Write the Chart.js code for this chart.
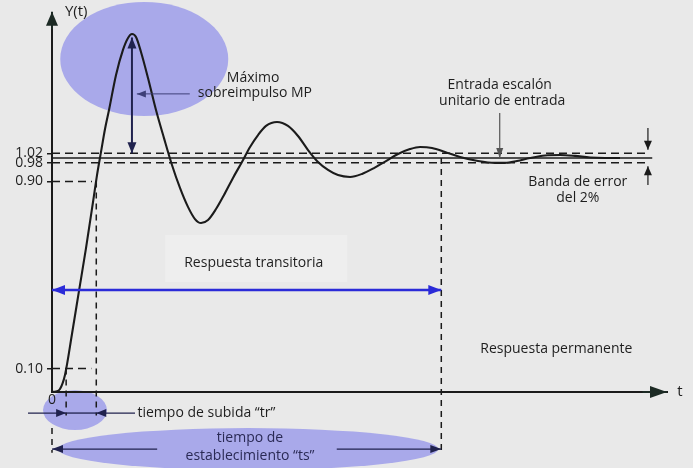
<!DOCTYPE html>
<html><head><meta charset="utf-8">
<script src="https://cdn.jsdelivr.net/npm/chart.js@4.4.1/dist/chart.umd.min.js"></script>
<style>html,body{margin:0;padding:0;background:#e9e9e9;}canvas{display:block}</style>
</head><body>
<canvas id="c" width="693" height="468"></canvas>
<script>
// ---- data ----
const responseT = [0, 0.065, 0.130, 0.211, 0.325, 0.439, 0.553, 0.667, 0.732, 0.797, 0.862, 0.927, 1.041, 1.154, 1.236, 1.301, 1.366, 1.447, 1.561, 1.691, 1.821, 1.951, 2.081, 2.211, 2.325, 2.423, 2.537, 2.667, 2.797, 2.943, 3.089, 3.220, 3.350, 3.480, 3.659, 3.837, 4.000, 4.163, 4.325, 4.488, 4.650, 4.846, 5.041, 5.236, 5.431, 5.626, 5.821, 5.984, 6.179, 6.390, 6.634, 6.927, 7.203, 7.366, 7.561, 7.772, 8.016, 8.260, 8.504, 8.748, 8.992, 9.236];
const responseY = [0, 0.002, 0.013, 0.073, 0.248, 0.432, 0.615, 0.812, 0.927, 1.026, 1.124, 1.205, 1.355, 1.462, 1.513, 1.530, 1.517, 1.453, 1.342, 1.205, 1.085, 0.970, 0.872, 0.791, 0.739, 0.722, 0.735, 0.782, 0.842, 0.915, 0.983, 1.047, 1.098, 1.137, 1.154, 1.137, 1.094, 1.034, 0.983, 0.949, 0.927, 0.919, 0.932, 0.957, 0.987, 1.017, 1.038, 1.047, 1.043, 1.026, 1.004, 0.987, 0.979, 0.979, 0.987, 1.000, 1.011, 1.013, 1.009, 1.002, 1.000, 1.000];
const yTickValues = [0.10, 0.90, 0.98, 1.02];
const xTickValues = [0];
const stepValue = 1.0;
const bandUpper = 1.02;
const bandLower = 0.98;
const riseLow = 0.10;
const riseHigh = 0.90;
const riseStartT = 0.23;
const riseEndT = 0.72;
const settlingT = 6.33;
const stepEndT = 9.76;
const bandEndT = 9.72;

// ---- annotation layout (in data units) ----
const belowTr = -0.09, belowTs = -0.244;
const ellipses = [
  {t: 1.50, v: 1.423, rt: 1.366, rv: 0.244},
  {t: 0.374, v: -0.077, rt: 0.52, rv: 0.085},
  {t: 3.19, v: -0.244, rt: 3.09, rv: 0.09}
];
const texts = [
  {s: 'Y(t)', t: 0.21, v: 1.624, align: 'left', size: 15},
  {s: 't', t: 10.21, v: 0.0, align: 'center', size: 15},
  {s: 'Máximo', t: 3.27, v: 1.342},
  {s: 'sobreimpulso MP', t: 3.30, v: 1.278},
  {s: 'Entrada escalón', t: 7.28, v: 1.312},
  {s: 'unitario de entrada', t: 7.32, v: 1.244},
  {s: 'Banda de error', t: 8.55, v: 0.897},
  {s: 'del 2%', t: 8.55, v: 0.829},
  {s: 'Respuesta transitoria', t: 3.28, v: 0.551},
  {s: 'Respuesta permanente', t: 8.20, v: 0.184},
  {s: 'tiempo de subida \u201ctr\u201d', t: 1.39, v: belowTr, align: 'left'},
  {s: 'tiempo de', t: 3.22, v: -0.197},
  {s: 'establecimiento \u201cts\u201d', t: 3.22, v: -0.274}
];
const NAVY = '#20224e', INK = '#1b1b1b';
const arrows = [
  {a: [0, 1.55], b: [0, 1.625], w: 2, c: '#1c2a24', len: 14, half: 6},
  {a: [9.6, 0], b: [10, 0], w: 2, c: '#1c2a24', len: 17, half: 6},
  {a: [1.30, 1.02], b: [1.30, 1.515], w: 2, c: NAVY, len: 11, half: 4.5, both: true},
  {a: [2.24, 1.274], b: [1.38, 1.274], w: 1, c: '#3d3f78', len: 9, half: 3.5},
  {a: [7.28, 1.192], b: [7.28, 1.0], w: 1.2, c: '#555', len: 10, half: 3.5},
  {a: [9.69, 1.128], b: [9.69, 1.035], w: 1.2, c: INK, len: 9, half: 4},
  {a: [9.69, 0.885], b: [9.69, 0.965], w: 1.2, c: INK, len: 9, half: 4},
  {a: [0, 0.436], b: [settlingT, 0.436], w: 2.5, c: '#2b2bd8', len: 13, half: 5, both: true},
  {a: [-0.39, belowTr], b: [riseStartT, belowTr], w: 1.3, c: NAVY, len: 10, half: 4},
  {a: [riseStartT, belowTr], b: [riseEndT, belowTr], w: 1.3, c: NAVY, len: 0, half: 0},
  {a: [1.35, belowTr], b: [riseEndT, belowTr], w: 1.3, c: NAVY, len: 10, half: 4},
  {a: [1.71, belowTs], b: [0, belowTs], w: 1.3, c: NAVY, len: 11, half: 4},
  {a: [4.63, belowTs], b: [settlingT, belowTs], w: 1.3, c: NAVY, len: 11, half: 4}
];
const transitBox = {t1: 1.84, t2: 4.80, v1: 0.671, v2: 0.470};

const FONT = '"Open Sans", "DejaVu Sans", sans-serif';

function head(ctx, x1, y1, x2, y2, len, half, color) {
  if (!len) return;
  const a = Math.atan2(y2 - y1, x2 - x1), c = Math.cos(a), s = Math.sin(a);
  ctx.beginPath();
  ctx.moveTo(x2, y2);
  ctx.lineTo(x2 - len * c + half * s, y2 - len * s - half * c);
  ctx.lineTo(x2 - len * c - half * s, y2 - len * s + half * c);
  ctx.closePath();
  ctx.fillStyle = color; ctx.fill();
}

const annot = {
  id: 'annot',
  beforeDraw(chart) {
    const ctx = chart.ctx, X = chart.scales.x, Y = chart.scales.y;
    ctx.save();
    ctx.fillStyle = '#e9e9e9';
    ctx.fillRect(0, 0, chart.width, chart.height);
    const bx1 = X.getPixelForValue(transitBox.t1), bx2 = X.getPixelForValue(transitBox.t2);
    const by1 = Y.getPixelForValue(transitBox.v1), by2 = Y.getPixelForValue(transitBox.v2);
    ctx.fillStyle = '#eeeeee';
    ctx.fillRect(bx1, by1, bx2 - bx1, by2 - by1);
    ctx.fillStyle = '#a9a9ea';
    for (const e of ellipses) {
      const cx = X.getPixelForValue(e.t), cy = Y.getPixelForValue(e.v);
      const rx = Math.abs(X.getPixelForValue(e.t + e.rt) - cx);
      const ry = Math.abs(Y.getPixelForValue(e.v + e.rv) - cy);
      ctx.beginPath(); ctx.ellipse(cx, cy, rx, ry, 0, 0, Math.PI * 2); ctx.fill();
    }
    ctx.restore();
  },
  afterDraw(chart) {
    const ctx = chart.ctx, X = chart.scales.x, Y = chart.scales.y;
    ctx.save();
    for (const ar of arrows) {
      const x1 = X.getPixelForValue(ar.a[0]), y1 = Y.getPixelForValue(ar.a[1]);
      const x2 = X.getPixelForValue(ar.b[0]), y2 = Y.getPixelForValue(ar.b[1]);
      ctx.strokeStyle = ar.c; ctx.lineWidth = ar.w; ctx.setLineDash([]);
      ctx.beginPath(); ctx.moveTo(x1, y1); ctx.lineTo(x2, y2); ctx.stroke();
      head(ctx, x1, y1, x2, y2, ar.len, ar.half, ar.c);
      if (ar.both) head(ctx, x2, y2, x1, y1, ar.len, ar.half, ar.c);
    }
    ctx.textBaseline = 'middle';
    for (const tx of texts) {
      ctx.font = (tx.size || 14) + 'px ' + FONT;
      ctx.fillStyle = (tx.v < 0 && tx.t > 2) ? '#2a2a55' : '#1e1e1e';
      ctx.textAlign = tx.align || 'center';
      ctx.fillText(tx.s, X.getPixelForValue(tx.t), Y.getPixelForValue(tx.v));
    }
    ctx.restore();
  }
};

function seg(data, dash, width) {
  return {data, borderColor: INK, borderWidth: width || 1.5, borderDash: dash || [], pointRadius: 0, clip: false, tension: 0};
}

const curve = responseT.map((t, i) => ({x: t, y: responseY[i]}));
const datasets = [
  seg([{x: 0, y: bandUpper}, {x: bandEndT, y: bandUpper}], [8, 5]),
  seg([{x: 0, y: bandLower}, {x: bandEndT, y: bandLower}], [8, 5]),
  seg([{x: 0, y: riseHigh}, {x: riseEndT - 0.07, y: riseHigh}], [8, 5]),
  seg([{x: 0, y: riseLow}, {x: riseEndT - 0.08, y: riseLow}], [8, 5]),
  seg([{x: riseStartT, y: riseLow}, {x: riseStartT, y: belowTr - 0.01}], [6, 5]),
  seg([{x: riseEndT, y: riseHigh}, {x: riseEndT, y: belowTr - 0.01}], [6, 5]),
  seg([{x: 0, y: -0.154}, {x: 0, y: -0.26}], [6, 5]),
  seg([{x: settlingT, y: stepValue}, {x: settlingT, y: -0.26}], [6, 5]),
  seg([{x: 0, y: stepValue}, {x: stepEndT, y: stepValue}], [], 1.6),
  Object.assign(seg(curve, [], 2.1), {cubicInterpolationMode: 'monotone'})
];

new Chart(document.getElementById('c'), {
  type: 'line',
  data: {datasets},
  plugins: [annot],
  options: {
    responsive: false, animation: false, devicePixelRatio: 1,
    layout: {padding: {top: 17.6, right: 26, bottom: 0, left: 0}},
    plugins: {legend: {display: false}, tooltip: {enabled: false}},
    scales: {
      x: {
        type: 'linear', min: 0, max: 10, offset: false,
        afterFit: s => { s.height = 76; },
        afterBuildTicks: s => { s.ticks = xTickValues.map(v => ({value: v})); },
        ticks: {callback: v => String(v), padding: 0, maxRotation: 0, color: '#1e1e1e', font: {family: FONT, size: 14}},
        grid: {display: true, drawOnChartArea: false, drawTicks: false},
        border: {display: true, color: INK, width: 2}
      },
      y: {
        type: 'linear', min: 0, max: 1.6,
        afterFit: s => { s.width = 52; },
        afterBuildTicks: s => { s.ticks = yTickValues.map(v => ({value: v})); },
        ticks: {callback: v => v.toFixed(2), padding: 4, color: '#1e1e1e', font: {family: FONT, size: 14}},
        grid: {display: true, drawOnChartArea: false, drawTicks: true, tickLength: 5, color: INK, lineWidth: 1.5},
        border: {display: true, color: INK, width: 2}
      }
    }
  }
});
</script>
</body></html>
